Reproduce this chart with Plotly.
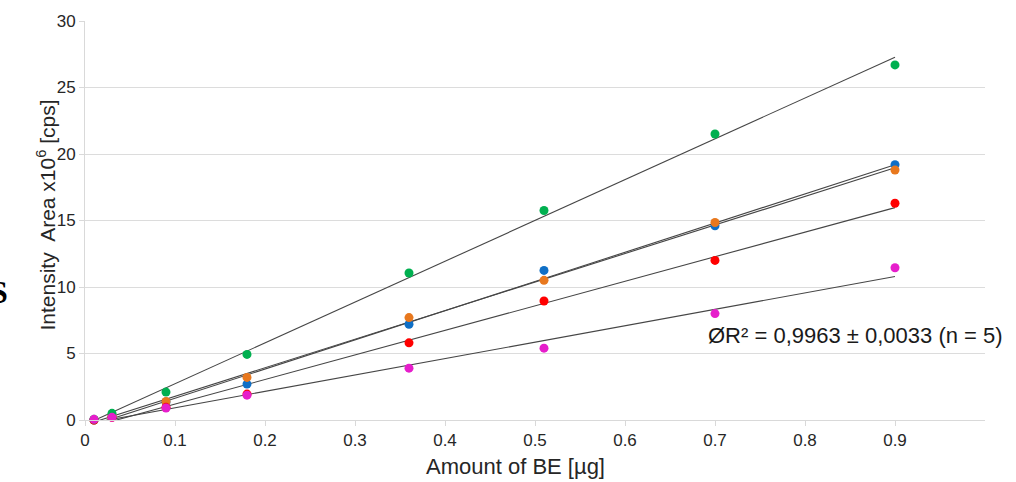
import numpy as np
import plotly.graph_objects as go

x_vals = [0.01, 0.03, 0.09, 0.18, 0.36, 0.51, 0.70, 0.90]

blue = [0.0, 0.25, 1.35, 2.7, 7.2, 11.25, 14.6, 19.2]
orange = [0.0, 0.3, 1.4, 3.2, 7.7, 10.5, 14.85, 18.8]
red = [0.0, 0.2, 0.95, 1.95, 5.8, 8.95, 12.0, 16.3]
green = [0.05, 0.5, 2.1, 4.93, 11.05, 15.75, 21.5, 26.7]
magenta = [0.05, 0.2, 0.9, 1.87, 3.9, 5.4, 8.0, 11.45]

series = [
    ("blue", blue, "#0F6FC6"),
    ("orange", orange, "#E8781E"),
    ("red", red, "#FF0000"),
    ("green", green, "#00B050"),
    ("magenta", magenta, "#E61ECB"),
]

x_ticks = [0, 0.1, 0.2, 0.3, 0.4, 0.5, 0.6, 0.7, 0.8, 0.9]
x_tick_text = ["0", "0.1", "0.2", "0.3", "0.4", "0.5", "0.6", "0.7", "0.8", "0.9"]
y_ticks = [0, 5, 10, 15, 20, 25, 30]

fig = go.Figure()

# trend lines (least-squares fit of each series)
for name, ys, col in series:
    k, d = np.polyfit(x_vals, ys, 1)
    xl = [min(x_vals), max(x_vals)]
    yl = [k * v + d for v in xl]
    fig.add_trace(go.Scatter(x=xl, y=yl, mode="lines",
                             line=dict(color="#464646", width=1.1),
                             showlegend=False, hoverinfo="skip"))

# markers
for name, ys, col in series:
    fig.add_trace(go.Scatter(x=x_vals, y=ys, mode="markers", name=name,
                             marker=dict(color=col, size=9),
                             cliponaxis=False, showlegend=False))

font = "Liberation Sans, Arial, sans-serif"

L, T = 85, 18
PW, PH = 900, 402

fig.update_layout(
    width=1016, height=482,
    margin=dict(l=L, r=1016 - L - PW, t=T, b=482 - T - PH),
    paper_bgcolor="white", plot_bgcolor="white",
    font=dict(family=font, size=17, color="#404040"),
    xaxis=dict(range=[0, 1.0], tickvals=x_ticks, ticktext=x_tick_text,
               showgrid=False, zeroline=False,
               showline=True, linecolor="#d9d9d9", linewidth=1,
               ticks="outside", ticklen=5, tickcolor="#d9d9d9",
               tickfont=dict(size=17, color="#262626")),
    yaxis=dict(range=[0, 30], tickvals=y_ticks,
               showgrid=True, gridcolor="#dcdcdc", gridwidth=1,
               zeroline=False,
               showline=True, linecolor="#d9d9d9", linewidth=1,
               ticks="outside", ticklen=5, tickcolor="#d9d9d9",
               tickfont=dict(size=17, color="#262626")),
    annotations=[
        dict(text="Amount of BE [µg]", xref="paper", yref="paper",
             x=(515 - L) / PW, y=-(467 - (T + PH)) / PH, xanchor="center", yanchor="middle",
             showarrow=False, font=dict(family=font, size=22, color="#262626")),
        dict(text="Intensity  Area x10<sup>6</sup> [cps]", xref="paper", yref="paper",
             x=-(L - 46) / PW, y=((T + PH) - 214) / PH, xanchor="center", yanchor="middle",
             textangle=-90, showarrow=False,
             font=dict(family=font, size=21, color="#262626")),
        dict(text="ØR² = 0,9963 ± 0,0033 (n = 5)", xref="paper", yref="paper",
             x=(706 - L) / PW, y=((T + PH) - 335) / PH, xanchor="left", yanchor="middle",
             showarrow=False, font=dict(family=font, size=22, color="#1a1a1a")),
        dict(text="<b>S</b>", xref="paper", yref="paper",
             x=-(L - 10) / PW, y=((T + PH) - 291) / PH, xanchor="right", yanchor="middle",
             showarrow=False,
             font=dict(family="Liberation Serif, serif", size=32, color="#000000")),
    ],
)

fig.write_html("out.html",
               config={"displayModeBar": False},
               post_script="document.body.style.margin='0';document.body.style.overflow='hidden';")
